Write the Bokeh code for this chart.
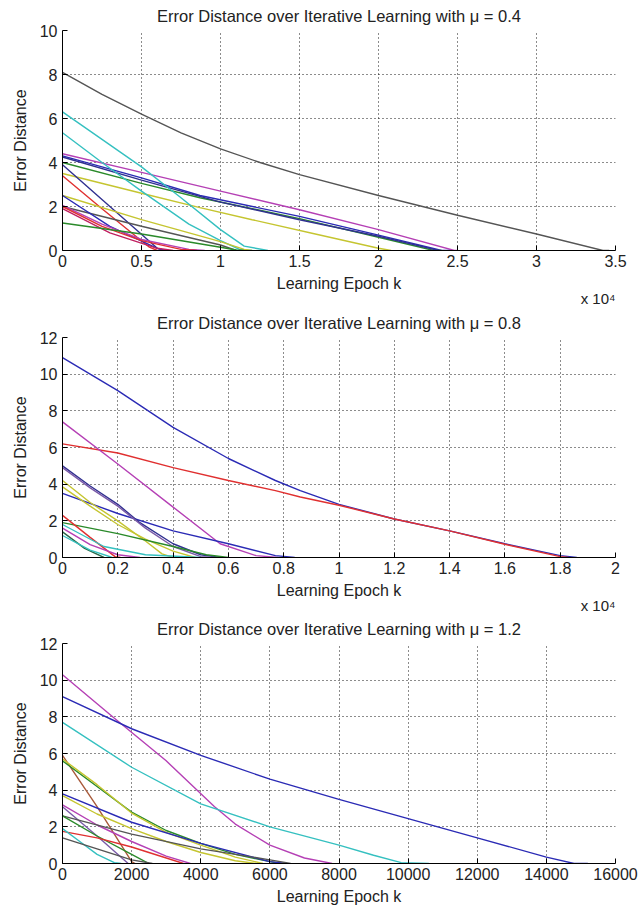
from bokeh.plotting import figure
from bokeh.layouts import column
from bokeh.models import Range1d, FixedTicker, Title
from bokeh.embed import file_html
from bokeh.resources import INLINE

# ---------------- data ----------------
BLUE = "#2b2bb5"
NAVY = "#303090"
GREEN = "#2a8a2a"
RED = "#e03030"
CYAN = "#35c0c0"
MAGENTA = "#b540b5"
YELLOW = "#c5c530"
DARK = "#555555"
PURPLE = "#7a5aa8"
BROWN = "#a85a3a"

# Panel 1: mu = 0.4
mu04_title = "Error Distance over Iterative Learning with \u03bc = 0.4"
mu04_epochs = [
    [0, 2500, 5000, 7500, 10000, 12500, 15000, 20000, 25000, 30000, 34200, 34600],
    [0, 5000, 10000, 15000, 20000, 24800, 25000],
    [0, 5000, 8700, 15000, 20000, 24000, 24500],
    [0, 5000, 8700, 15000, 20000, 23500, 24000],
    [0, 5000, 10000, 15000, 20000, 23800],
    [0, 5000, 8700, 12000, 16000, 20000, 20800],
    [0, 2500, 5000, 7500, 10000, 11500, 13000],
    [0, 2500, 5000, 8000, 10000, 11200, 12000],
    [0, 3000, 6000, 6500],
    [0, 2500, 5500, 6000],
    [0, 5000, 10000, 11500, 12000],
    [0, 5000, 10000, 11000],
    [0, 3000, 6000, 6500],
    [0, 2500, 5000, 8000, 9000],
    [0, 2500, 5000, 7500, 8500],
    [0, 3000, 6000, 7000],
    [0, 5000, 10000, 11000, 11500],
]
mu04_error = [
    [8.1, 7.1, 6.2, 5.35, 4.62, 4.0, 3.45, 2.5, 1.6, 0.75, 0, 0],
    [4.4, 3.55, 2.7, 1.85, 0.95, 0, 0],
    [4.3, 3.3, 2.5, 1.55, 0.7, 0, 0],
    [4.0, 3.05, 2.4, 1.45, 0.6, 0, 0],
    [4.25, 3.2, 2.2, 1.4, 0.65, 0],
    [3.5, 2.6, 1.95, 1.4, 0.75, 0.1, 0],
    [6.3, 5.05, 3.8, 2.4, 0.95, 0.2, 0],
    [5.35, 4.0, 2.7, 1.2, 0.45, 0.05, 0],
    [3.9, 2.0, 0.1, 0],
    [3.4, 1.9, 0.15, 0],
    [2.5, 1.4, 0.4, 0.05, 0],
    [2.0, 1.1, 0.25, 0],
    [2.5, 1.1, 0.1, 0],
    [2.05, 1.2, 0.5, 0.05, 0],
    [2.0, 1.1, 0.45, 0.05, 0],
    [1.9, 0.8, 0.1, 0],
    [1.25, 0.75, 0.15, 0.02, 0],
]
mu04_colors = [DARK, MAGENTA, BLUE, GREEN, NAVY, YELLOW, CYAN, CYAN, NAVY, RED,
               YELLOW, DARK, BLUE, MAGENTA, RED, "#c02060", GREEN]
mu04_xticks = [0, 5000, 10000, 15000, 20000, 25000, 30000, 35000]
mu04_xlabels = ["0", "0.5", "1", "1.5", "2", "2.5", "3", "3.5"]
mu04_yticks = [0, 2, 4, 6, 8, 10]

# Panel 2: mu = 0.8
mu08_title = "Error Distance over Iterative Learning with \u03bc = 0.8"
mu08_epochs = [
    [0, 2000, 4000, 6000, 7700, 8600, 10000, 12000, 14000, 16000, 18000, 18600],
    [0, 2000, 4000, 6000, 7700, 8600, 10000, 12000, 14000, 16000, 18000, 18300],
    [0, 2000, 4000, 5700, 7000, 7800],
    [0, 2000, 4000, 6000, 7700, 8400],
    [0, 1000, 2000, 2800, 4000, 5000, 5700],
    [0, 1000, 2000, 3000, 4000, 5000, 5500],
    [0, 1000, 2000, 3000, 3600, 4000],
    [0, 1000, 2000, 3000, 4000, 4800],
    [0, 2000, 4000, 5200, 6000],
    [0, 1000, 1900, 2100],
    [0, 1000, 2000, 2800],
    [0, 1500, 3000, 5000],
    [0, 800, 1500],
    [0, 1000, 1800],
]
mu08_error = [
    [10.9, 9.1, 7.1, 5.4, 4.2, 3.65, 2.9, 2.1, 1.45, 0.75, 0.1, 0],
    [6.2, 5.7, 4.9, 4.2, 3.65, 3.3, 2.85, 2.1, 1.45, 0.72, 0.05, 0],
    [7.4, 5.1, 2.75, 0.75, 0.1, 0],
    [3.5, 2.4, 1.45, 0.75, 0.1, 0],
    [5.0, 3.9, 2.9, 1.9, 0.75, 0.15, 0],
    [4.9, 3.8, 2.8, 1.6, 0.6, 0.05, 0],
    [4.2, 3.0, 2.0, 0.9, 0.2, 0],
    [3.85, 2.8, 1.8, 1.0, 0.35, 0],
    [1.9, 1.3, 0.6, 0.15, 0],
    [2.3, 1.1, 0.05, 0],
    [1.6, 0.7, 0.15, 0],
    [1.8, 0.6, 0.15, 0],
    [1.4, 0.5, 0],
    [1.2, 0.4, 0],
]
mu08_colors = [BLUE, RED, MAGENTA, BLUE, NAVY, PURPLE, YELLOW, YELLOW, GREEN,
               RED, MAGENTA, CYAN, "#2a6a4a", CYAN]
mu08_xticks = [0, 2000, 4000, 6000, 8000, 10000, 12000, 14000, 16000, 18000, 20000]
mu08_xlabels = ["0", "0.2", "0.4", "0.6", "0.8", "1", "1.2", "1.4", "1.6", "1.8", "2"]
mu08_yticks = [0, 2, 4, 6, 8, 10, 12]

# Panel 3: mu = 1.2
mu12_title = "Error Distance over Iterative Learning with \u03bc = 1.2"
mu12_epochs = [
    [0, 1450, 3000, 4400, 5000, 6000, 7000, 7800],
    [0, 2000, 4000, 6000, 8000, 10000, 12000, 14000, 14800, 15200],
    [0, 2000, 4000, 6000, 8000, 9000, 9800, 10600],
    [0, 1000, 2000, 2100],
    [0, 1000, 2000, 3000, 4000, 5000, 6000, 6300],
    [0, 1000, 2000, 3000, 4000, 5000, 5800],
    [0, 2000, 4000, 6000, 6500],
    [0, 1000, 2000, 3000, 4000, 5000, 5600],
    [0, 1000, 2000, 3000, 3700],
    [0, 1000, 1900],
    [0, 2000, 4000, 6000, 6600],
    [0, 1000, 2000, 2500],
    [0, 1000, 2000, 2500, 3500],
    [0, 500, 1000, 1500, 1700],
    [0, 1000, 2000, 2600],
]
mu12_error = [
    [10.3, 8.0, 5.6, 3.1, 2.15, 1.0, 0.3, 0],
    [9.1, 7.35, 5.9, 4.6, 3.5, 2.45, 1.4, 0.35, 0, 0],
    [7.7, 5.25, 3.25, 2.0, 1.0, 0.45, 0.05, 0],
    [5.9, 3.1, 0.1, 0],
    [5.6, 4.2, 2.8, 1.8, 1.1, 0.5, 0.1, 0],
    [5.7, 4.3, 2.75, 1.7, 1.0, 0.35, 0],
    [3.8, 2.25, 1.1, 0.1, 0],
    [3.7, 2.7, 1.9, 1.2, 0.6, 0.15, 0],
    [3.2, 2.1, 1.2, 0.4, 0],
    [3.1, 1.5, 0],
    [2.6, 1.6, 0.8, 0.2, 0],
    [2.6, 1.5, 0.5, 0],
    [1.75, 1.4, 0.9, 0.6, 0],
    [1.9, 1.2, 0.5, 0.05, 0],
    [1.4, 0.8, 0.2, 0],
]
mu12_colors = [MAGENTA, BLUE, CYAN, BROWN, GREEN, YELLOW, BLUE, YELLOW, MAGENTA,
               PURPLE, DARK, GREEN, RED, CYAN, DARK]
mu12_xticks = [0, 2000, 4000, 6000, 8000, 10000, 12000, 14000, 16000]
mu12_xlabels = ["0", "2000", "4000", "6000", "8000", "10000", "12000", "14000", "16000"]
mu12_yticks = [0, 2, 4, 6, 8, 10, 12]

exponent_note = "x 10\u2074"

FONT = "Liberation Sans"
TXT = "#222222"


def make_panel(title, xs, ys, colors, xticks, xlabels, yticks, xmax, ymax,
               height, bottom, note):
    p = figure(width=639, height=height, output_backend="svg", toolbar_location=None,
               x_range=Range1d(0, xmax), y_range=Range1d(0, ymax),
               min_border_left=62, min_border_right=24, min_border_top=30,
               min_border_bottom=bottom, title=title)
    p.title.align = "center"
    p.title.vertical_align = "top"
    p.title.text_font = FONT
    p.title.text_font_size = "16.5px"
    p.title.text_font_style = "normal"
    p.title.text_color = TXT
    p.title.standoff = 8
    p.outline_line_color = None
    p.background_fill_color = "white"
    p.border_fill_color = "white"

    p.multi_line(xs, ys, line_color=colors, line_width=1.4)

    for ax in (p.xaxis[0], p.yaxis[0]):
        ax.axis_line_color = "black"
        ax.axis_line_width = 1
        ax.major_tick_in = 5
        ax.major_tick_out = 0
        ax.minor_tick_in = 0
        ax.minor_tick_out = 0
        ax.major_tick_line_color = "black"
        ax.major_label_text_font = FONT
        ax.major_label_text_font_size = "16px"
        ax.major_label_text_color = TXT
        ax.axis_label_text_font = FONT
        ax.axis_label_text_font_size = "16px"
        ax.axis_label_text_font_style = "normal"
        ax.axis_label_text_color = TXT
    p.xaxis.ticker = FixedTicker(ticks=xticks)
    p.xaxis.major_label_overrides = {t: l for t, l in zip(xticks, xlabels)}
    p.yaxis.ticker = FixedTicker(ticks=yticks)
    p.xaxis.axis_label = "Learning Epoch k"
    p.yaxis.axis_label = "Error Distance"
    p.xaxis.major_label_standoff = 4
    p.xaxis.axis_label_standoff = 5
    p.yaxis.major_label_standoff = 5
    p.yaxis.axis_label_standoff = 8

    for g in (p.xgrid[0], p.ygrid[0]):
        g.grid_line_color = "black"
        g.grid_line_alpha = 0.9
        g.grid_line_dash = "1 3"
        g.grid_line_width = 1

    if note:
        t = Title(text=note, align="right", text_font=FONT, text_font_size="15px",
                  text_font_style="normal", text_color=TXT, standoff=-24, offset=0)
        p.add_layout(t, "below")
    return p


p1 = make_panel(mu04_title, mu04_epochs, mu04_error, mu04_colors, mu04_xticks, mu04_xlabels,
                mu04_yticks, 35000, 10, 307, 57, exponent_note)
p2 = make_panel(mu08_title, mu08_epochs, mu08_error, mu08_colors, mu08_xticks, mu08_xlabels,
                mu08_yticks, 20000, 12, 306, 56, exponent_note)
p3 = make_panel(mu12_title, mu12_epochs, mu12_error, mu12_colors, mu12_xticks, mu12_xlabels,
                mu12_yticks, 16000, 12, 300, 50, None)

layout = column(p1, p2, p3, spacing=0)
open("out.html", "w").write(file_html(layout, INLINE))
